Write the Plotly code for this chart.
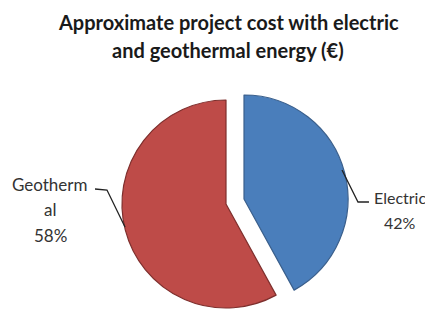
import plotly.graph_objects as go

categories = ["Electric", "Geothermal"]
values = [42, 58]
colors = ["#4A7EBB", "#BE4B48"]
edge_colors = ["#3A5F8C", "#7E2F2D"]
title_lines = ["Approximate project cost with electric", "and geothermal energy (€)"]
label_lines = {"Electric": ["Electric"], "Geothermal": ["Geotherm", "al"]}

# page body has an 8px margin; work in screen pixels and convert
OX, OY = 8, 8
W, H = 425, 305
total = sum(values)
pcts = [f"{round(v * 100 / total)}%" for v in values]


def px(x, y):
    return (x - OX) / W, 1 - (y - OY) / H


def dom(cx, cy, r):
    x0, y1 = px(cx - r, cy - r)
    x1, y0 = px(cx + r, cy + r)
    return dict(x=[max(0, x0), min(1, x1)], y=[max(0, y0), min(1, y1)])


fig = go.Figure()
# Geothermal slice (unexploded) and Electric slice (exploded) drawn as two pie layers
show_sets = [(1, dom(226, 204, 104)), (0, dom(244, 199, 104))]
for idx, d in show_sets:
    cols = [c if i == idx else "rgba(0,0,0,0)" for i, c in enumerate(colors)]
    lcols = [c if i == idx else "rgba(0,0,0,0)" for i, c in enumerate(edge_colors)]
    fig.add_trace(go.Pie(
        labels=categories, values=values, sort=False, direction="clockwise",
        rotation=0, textinfo="none", hoverinfo="skip", showlegend=False,
        marker=dict(colors=cols, line=dict(color=lcols, width=1.2)),
        domain=d,
    ))

font_fam = "Lato, Open Sans, sans-serif"
anns = []
for line, y in zip(title_lines, [22, 50]):
    x0, y0 = px(228, y)
    anns.append(dict(text=f"<b>{line}</b>", x=x0, y=y0, xref="paper", yref="paper",
                     showarrow=False, xanchor="center", yanchor="middle",
                     font=dict(family=font_fam, size=20, color="#1a1a1a")))

# Geothermal label
g_lines = label_lines["Geothermal"] + [pcts[1]]
for line, y in zip(g_lines, [184, 209, 235]):
    x0, y0 = px(50, y)
    anns.append(dict(text=line, x=x0, y=y0, xref="paper", yref="paper", showarrow=False,
                     xanchor="center", yanchor="middle",
                     font=dict(family=font_fam, size=17, color="#333333")))
# Electric label
e_lines = label_lines["Electric"] + [pcts[0]]
for line, y in zip(e_lines, [197, 222]):
    x0, y0 = px(400, y)
    anns.append(dict(text=line, x=x0, y=y0, xref="paper", yref="paper", showarrow=False,
                     xanchor="center", yanchor="middle",
                     font=dict(family=font_fam, size=16, color="#333333")))


def path(pts):
    s = ""
    for i, (x, y) in enumerate(pts):
        a, b = px(x, y)
        s += ("M" if i == 0 else " L") + f" {a:.4f} {b:.4f}"
    return s


shapes = [
    dict(type="path", xref="paper", yref="paper", path=path([(95, 189), (107, 190), (125, 227)]),
         line=dict(color="#222222", width=1.3)),
    dict(type="path", xref="paper", yref="paper", path=path([(342, 170), (358, 202), (369, 202)]),
         line=dict(color="#222222", width=1.3)),
]

fig.update_layout(
    width=W, height=H, margin=dict(l=0, r=0, t=0, b=0),
    paper_bgcolor="white", plot_bgcolor="white",
    annotations=anns, shapes=shapes,
)
fig.write_html("out.html")
